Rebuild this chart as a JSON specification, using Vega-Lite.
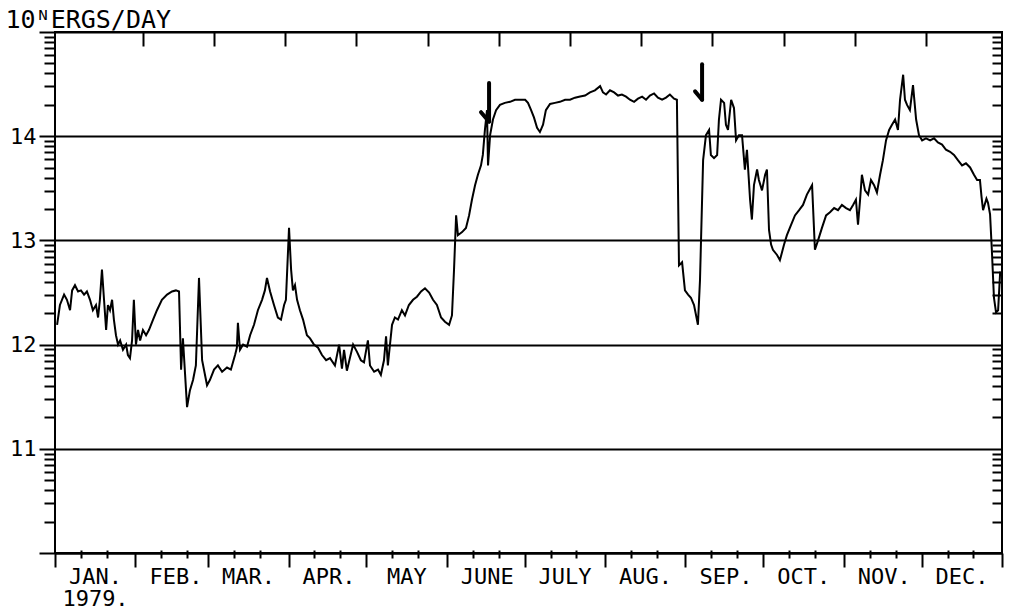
{
  "$schema": "https://vega.github.io/schema/vega-lite/v6.json",
  "width": 947,
  "height": 521,
  "autosize": {"type": "none"},
  "padding": {"left": 55, "top": 32, "right": 11, "bottom": 59},
  "background": "white",
  "config": {"view": {"stroke": "black", "strokeWidth": 2}},
  "datasets": {
    "series": [
      {"d": 0.8, "v": 12.19}, {"d": 1.9, "v": 12.38}, {"d": 3.5, "v": 12.48}, {"d": 4.6, "v": 12.43}, {"d": 5.8, "v": 12.33},
      {"d": 6.6, "v": 12.52}, {"d": 7.7, "v": 12.57}, {"d": 8.9, "v": 12.51}, {"d": 10.0, "v": 12.52}, {"d": 11.2, "v": 12.48},
      {"d": 12.3, "v": 12.51}, {"d": 13.5, "v": 12.43}, {"d": 14.6, "v": 12.33}, {"d": 15.8, "v": 12.38}, {"d": 16.6, "v": 12.26},
      {"d": 17.3, "v": 12.43}, {"d": 18.1, "v": 12.72}, {"d": 18.9, "v": 12.43}, {"d": 19.7, "v": 12.14}, {"d": 20.4, "v": 12.38},
      {"d": 21.2, "v": 12.33}, {"d": 22.0, "v": 12.43}, {"d": 22.7, "v": 12.24}, {"d": 23.5, "v": 12.09}, {"d": 24.3, "v": 12.0},
      {"d": 25.1, "v": 12.04}, {"d": 26.2, "v": 11.95}, {"d": 27.4, "v": 12.0}, {"d": 28.1, "v": 11.9}, {"d": 28.9, "v": 11.87},
      {"d": 29.7, "v": 12.04}, {"d": 30.4, "v": 12.43}, {"d": 31.2, "v": 12.0}, {"d": 32.0, "v": 12.14}, {"d": 32.8, "v": 12.04},
      {"d": 33.9, "v": 12.14}, {"d": 35.1, "v": 12.09}, {"d": 36.2, "v": 12.14}, {"d": 37.8, "v": 12.24}, {"d": 39.3, "v": 12.33},
      {"d": 41.2, "v": 12.43}, {"d": 43.2, "v": 12.48}, {"d": 45.1, "v": 12.51}, {"d": 46.6, "v": 12.52}, {"d": 47.8, "v": 12.51},
      {"d": 48.6, "v": 11.76}, {"d": 49.3, "v": 12.06}, {"d": 50.9, "v": 11.4}, {"d": 52.0, "v": 11.56}, {"d": 53.2, "v": 11.66},
      {"d": 54.3, "v": 11.8}, {"d": 55.5, "v": 12.64}, {"d": 56.7, "v": 11.85}, {"d": 58.6, "v": 11.61}, {"d": 59.7, "v": 11.66},
      {"d": 61.3, "v": 11.76}, {"d": 62.8, "v": 11.8}, {"d": 64.4, "v": 11.74}, {"d": 66.3, "v": 11.78}, {"d": 67.8, "v": 11.76},
      {"d": 69.4, "v": 11.9}, {"d": 70.1, "v": 11.97}, {"d": 70.5, "v": 12.21}, {"d": 71.3, "v": 11.95}, {"d": 72.5, "v": 12.0},
      {"d": 74.0, "v": 11.98}, {"d": 75.2, "v": 12.09}, {"d": 76.7, "v": 12.19}, {"d": 78.2, "v": 12.33}, {"d": 79.8, "v": 12.43},
      {"d": 80.9, "v": 12.52}, {"d": 81.7, "v": 12.64}, {"d": 82.9, "v": 12.51}, {"d": 84.4, "v": 12.38}, {"d": 85.9, "v": 12.26},
      {"d": 87.1, "v": 12.24}, {"d": 88.3, "v": 12.38}, {"d": 89.0, "v": 12.43}, {"d": 90.2, "v": 13.12}, {"d": 91.0, "v": 12.72},
      {"d": 91.7, "v": 12.52}, {"d": 92.5, "v": 12.57}, {"d": 93.3, "v": 12.43}, {"d": 94.4, "v": 12.33}, {"d": 95.6, "v": 12.24},
      {"d": 97.1, "v": 12.09}, {"d": 98.3, "v": 12.06}, {"d": 99.8, "v": 12.0}, {"d": 101.4, "v": 11.97}, {"d": 102.9, "v": 11.9},
      {"d": 104.5, "v": 11.85}, {"d": 106.0, "v": 11.87}, {"d": 107.9, "v": 11.8}, {"d": 109.5, "v": 12.0}, {"d": 110.6, "v": 11.77},
      {"d": 111.4, "v": 11.95}, {"d": 112.5, "v": 11.75}, {"d": 114.9, "v": 12.0}, {"d": 116.4, "v": 11.93}, {"d": 117.9, "v": 11.85},
      {"d": 119.1, "v": 11.83}, {"d": 120.6, "v": 12.04}, {"d": 121.4, "v": 11.8}, {"d": 123.0, "v": 11.74}, {"d": 124.5, "v": 11.76},
      {"d": 125.6, "v": 11.71}, {"d": 126.8, "v": 11.85}, {"d": 127.6, "v": 12.08}, {"d": 128.3, "v": 11.8}, {"d": 128.7, "v": 11.9},
      {"d": 129.9, "v": 12.19}, {"d": 131.0, "v": 12.26}, {"d": 132.2, "v": 12.24}, {"d": 133.7, "v": 12.33}, {"d": 134.9, "v": 12.28},
      {"d": 136.4, "v": 12.38}, {"d": 138.0, "v": 12.43}, {"d": 139.5, "v": 12.46}, {"d": 141.1, "v": 12.51}, {"d": 142.6, "v": 12.54},
      {"d": 144.2, "v": 12.5}, {"d": 145.7, "v": 12.43}, {"d": 147.2, "v": 12.38}, {"d": 148.8, "v": 12.26}, {"d": 150.3, "v": 12.22},
      {"d": 151.9, "v": 12.19}, {"d": 153.0, "v": 12.28}, {"d": 153.8, "v": 12.72}, {"d": 154.6, "v": 13.24}, {"d": 155.3, "v": 13.05},
      {"d": 156.9, "v": 13.08}, {"d": 158.4, "v": 13.12}, {"d": 159.6, "v": 13.24}, {"d": 160.7, "v": 13.39}, {"d": 161.9, "v": 13.53},
      {"d": 163.0, "v": 13.63}, {"d": 164.2, "v": 13.72}, {"d": 164.9, "v": 13.82}, {"d": 165.7, "v": 14.06}, {"d": 166.5, "v": 14.25},
      {"d": 166.9, "v": 13.72}, {"d": 167.7, "v": 14.01}, {"d": 168.8, "v": 14.16}, {"d": 170.0, "v": 14.25}, {"d": 171.5, "v": 14.3},
      {"d": 173.4, "v": 14.32}, {"d": 175.4, "v": 14.33}, {"d": 177.3, "v": 14.35}, {"d": 179.2, "v": 14.35}, {"d": 181.2, "v": 14.35},
      {"d": 182.3, "v": 14.32}, {"d": 183.5, "v": 14.25}, {"d": 184.6, "v": 14.18}, {"d": 185.8, "v": 14.08}, {"d": 186.9, "v": 14.04},
      {"d": 188.1, "v": 14.11}, {"d": 189.2, "v": 14.25}, {"d": 190.8, "v": 14.31}, {"d": 192.7, "v": 14.32}, {"d": 194.6, "v": 14.33},
      {"d": 196.6, "v": 14.35}, {"d": 198.5, "v": 14.35}, {"d": 200.4, "v": 14.37}, {"d": 202.4, "v": 14.38}, {"d": 204.3, "v": 14.39},
      {"d": 206.2, "v": 14.42}, {"d": 208.1, "v": 14.44}, {"d": 210.1, "v": 14.48}, {"d": 211.2, "v": 14.42}, {"d": 212.4, "v": 14.4},
      {"d": 213.9, "v": 14.44}, {"d": 215.5, "v": 14.42}, {"d": 217.0, "v": 14.39}, {"d": 218.5, "v": 14.4}, {"d": 220.1, "v": 14.38},
      {"d": 221.6, "v": 14.35}, {"d": 223.2, "v": 14.33}, {"d": 224.7, "v": 14.36}, {"d": 226.3, "v": 14.38}, {"d": 227.8, "v": 14.35},
      {"d": 229.3, "v": 14.39}, {"d": 230.9, "v": 14.41}, {"d": 232.4, "v": 14.37}, {"d": 234.0, "v": 14.35}, {"d": 235.5, "v": 14.37},
      {"d": 237.0, "v": 14.4}, {"d": 238.6, "v": 14.36}, {"d": 239.7, "v": 14.35}, {"d": 240.5, "v": 12.76}, {"d": 241.7, "v": 12.79},
      {"d": 242.8, "v": 12.52}, {"d": 244.0, "v": 12.48}, {"d": 245.1, "v": 12.45}, {"d": 246.3, "v": 12.38}, {"d": 247.8, "v": 12.19},
      {"d": 248.6, "v": 12.62}, {"d": 249.8, "v": 13.77}, {"d": 250.9, "v": 14.01}, {"d": 252.1, "v": 14.06}, {"d": 252.8, "v": 13.82},
      {"d": 254.0, "v": 13.79}, {"d": 255.2, "v": 13.82}, {"d": 255.9, "v": 14.16}, {"d": 256.7, "v": 14.35}, {"d": 257.9, "v": 14.32},
      {"d": 258.6, "v": 14.11}, {"d": 259.4, "v": 14.06}, {"d": 260.6, "v": 14.35}, {"d": 261.7, "v": 14.27}, {"d": 262.5, "v": 13.96},
      {"d": 263.6, "v": 14.01}, {"d": 264.8, "v": 14.01}, {"d": 265.9, "v": 13.68}, {"d": 266.7, "v": 13.87}, {"d": 267.9, "v": 13.39},
      {"d": 268.6, "v": 13.2}, {"d": 269.4, "v": 13.53}, {"d": 270.6, "v": 13.68}, {"d": 271.3, "v": 13.58}, {"d": 272.5, "v": 13.48},
      {"d": 273.7, "v": 13.63}, {"d": 274.4, "v": 13.68}, {"d": 275.2, "v": 13.1}, {"d": 276.0, "v": 12.96}, {"d": 276.7, "v": 12.91},
      {"d": 278.3, "v": 12.86}, {"d": 279.4, "v": 12.81}, {"d": 281.0, "v": 12.96}, {"d": 282.1, "v": 13.05}, {"d": 283.7, "v": 13.15},
      {"d": 285.2, "v": 13.24}, {"d": 286.8, "v": 13.29}, {"d": 288.3, "v": 13.34}, {"d": 289.8, "v": 13.44}, {"d": 291.8, "v": 13.53},
      {"d": 292.9, "v": 12.91}, {"d": 294.1, "v": 13.0}, {"d": 295.6, "v": 13.12}, {"d": 297.2, "v": 13.24}, {"d": 298.7, "v": 13.27},
      {"d": 300.3, "v": 13.31}, {"d": 301.8, "v": 13.29}, {"d": 303.3, "v": 13.34}, {"d": 304.9, "v": 13.31}, {"d": 306.4, "v": 13.29},
      {"d": 307.6, "v": 13.34}, {"d": 308.7, "v": 13.39}, {"d": 309.5, "v": 13.15}, {"d": 310.3, "v": 13.39}, {"d": 311.0, "v": 13.63},
      {"d": 312.2, "v": 13.48}, {"d": 313.4, "v": 13.44}, {"d": 314.5, "v": 13.58}, {"d": 315.7, "v": 13.53}, {"d": 316.8, "v": 13.46},
      {"d": 318.0, "v": 13.63}, {"d": 319.1, "v": 13.77}, {"d": 320.3, "v": 13.96}, {"d": 321.5, "v": 14.06}, {"d": 322.6, "v": 14.11},
      {"d": 323.8, "v": 14.16}, {"d": 324.9, "v": 14.06}, {"d": 325.7, "v": 14.35}, {"d": 326.9, "v": 14.59}, {"d": 327.6, "v": 14.35},
      {"d": 328.4, "v": 14.3}, {"d": 329.5, "v": 14.25}, {"d": 330.7, "v": 14.49}, {"d": 331.9, "v": 14.16}, {"d": 333.0, "v": 14.01},
      {"d": 334.2, "v": 13.96}, {"d": 335.7, "v": 13.98}, {"d": 337.3, "v": 13.96}, {"d": 338.8, "v": 13.98}, {"d": 340.3, "v": 13.94},
      {"d": 341.9, "v": 13.92}, {"d": 343.4, "v": 13.87}, {"d": 345.0, "v": 13.85}, {"d": 346.5, "v": 13.82}, {"d": 348.0, "v": 13.77},
      {"d": 349.6, "v": 13.72}, {"d": 351.1, "v": 13.74}, {"d": 352.7, "v": 13.7}, {"d": 354.2, "v": 13.63}, {"d": 355.4, "v": 13.58},
      {"d": 356.5, "v": 13.58}, {"d": 357.1, "v": 13.42}, {"d": 357.7, "v": 13.29}, {"d": 359.0, "v": 13.4}, {"d": 359.6, "v": 13.36},
      {"d": 360.4, "v": 13.25}, {"d": 361.1, "v": 12.9}, {"d": 361.9, "v": 12.45}, {"d": 362.7, "v": 12.31}, {"d": 363.5, "v": 12.33},
      {"d": 364.3, "v": 12.7}
    ],
    "shafts": [
      {"d": 167.3, "d2": 167.3, "v": 14.51, "v2": 14.14},
      {"d": 249.4, "d2": 249.4, "v": 14.69, "v2": 14.35}
    ],
    "barbs": [
      {"d": 164.2, "d2": 167.3, "v": 14.23, "v2": 14.14},
      {"d": 246.7, "d2": 249.4, "v": 14.43, "v2": 14.35}
    ]
  },
  "resolve": {"axis": {"x": "independent", "y": "independent"}},
  "layer": [
    {
      "data": {"name": "series"},
      "mark": {"type": "line", "color": "black", "strokeWidth": 2, "clip": true},
      "encoding": {
        "x": {
          "field": "d", "type": "quantitative",
          "scale": {"domain": [0, 365], "nice": false, "zero": false},
          "axis": {
            "orient": "bottom", "title": null, "grid": false,
            "values": [0, 31, 59, 90, 120, 151, 181, 212, 243, 273, 304, 334, 365],
            "domain": true, "domainColor": "black", "domainWidth": 2,
            "ticks": true, "tickSize": 14, "tickColor": "black", "tickWidth": 2,
            "labelExpr": "[['JAN.','1979.'],'FEB.','MAR.','APR.','MAY','JUNE','JULY','AUG.','SEP.','OCT.','NOV.','DEC.',''][indexof([0,31,59,90,120,151,181,212,243,273,304,334,365], datum.value)]",
            "labelOffset": 40, "labelPadding": -1, "labelFlush": false, "labelOverlap": false, "labelBound": false,
            "labelFont": "DejaVu Sans Mono", "labelFontSize": 22, "labelColor": "black", "labelLineHeight": 22,
            "labelAlign": "center", "labelBaseline": "top"
          }
        },
        "y": {
          "field": "v", "type": "quantitative",
          "scale": {"domain": [10, 15], "nice": false, "zero": false},
          "axis": {
            "orient": "left",
            "title": "10ᴺERGS/DAY", "titleAngle": 0, "titleX": -50, "titleY": -5,
            "titleAlign": "left", "titleBaseline": "alphabetic",
            "titleFont": "DejaVu Sans Mono", "titleFontSize": 25, "titleFontWeight": "normal", "titleColor": "black",
            "values": [10, 11, 12, 13, 14, 15],
            "domain": false,
            "grid": true, "gridColor": "black", "gridWidth": 2, "gridOpacity": 1,
            "ticks": true, "tickSize": 16, "tickColor": "black", "tickWidth": 2,
            "labelExpr": "(datum.value >= 11 && datum.value <= 14) ? datum.label : ''",
            "labelPadding": 3, "labelOverlap": false, "labelBound": false, "labelFlush": false,
            "labelFont": "DejaVu Sans Mono", "labelFontSize": 22, "labelColor": "black", "labelBaseline": "middle"
          }
        }
      }
    },
    {
      "data": {"name": "shafts"},
      "mark": {"type": "rule", "color": "black", "strokeWidth": 4, "strokeCap": "round"},
      "encoding": {
        "x": {
          "field": "d", "type": "quantitative",
          "scale": {"domain": [0, 365], "nice": false, "zero": false},
          "axis": {
            "orient": "bottom", "title": null, "grid": false, "domain": false, "labels": false,
            "values": [10, 20, 41, 51, 69, 79, 100, 110, 130, 140, 161, 171, 191, 201, 222, 232, 253, 263, 283, 293, 314, 324, 344, 354],
            "offset": -3, "tickSize": 8, "tickColor": "black", "tickWidth": 2
          }
        },
        "x2": {"field": "d2"},
        "y": {
          "field": "v", "type": "quantitative",
          "scale": {"domain": [10, 15], "nice": false, "zero": false},
          "axis": {
            "orient": "left", "title": null, "grid": false, "domain": false, "labels": false,
            "values": [10.301, 10.477, 10.602, 10.699, 10.778, 10.845, 10.903, 10.954,
                       11.301, 11.477, 11.602, 11.699, 11.778, 11.845, 11.903, 11.954,
                       12.301, 12.477, 12.602, 12.699, 12.778, 12.845, 12.903, 12.954,
                       13.301, 13.477, 13.602, 13.699, 13.778, 13.845, 13.903, 13.954,
                       14.301, 14.477, 14.602, 14.699, 14.778, 14.845, 14.903, 14.954],
            "tickSize": 11, "tickColor": "black", "tickWidth": 2
          }
        },
        "y2": {"field": "v2"}
      }
    },
    {
      "data": {"name": "barbs"},
      "mark": {"type": "rule", "color": "black", "strokeWidth": 4, "strokeCap": "round"},
      "encoding": {
        "x": {
          "field": "d", "type": "quantitative",
          "scale": {"domain": [0, 365], "nice": false, "zero": false},
          "axis": {
            "orient": "top", "title": null, "grid": false, "domain": false, "labels": false,
            "values": [33.9, 61.3, 88.8, 116.2, 143.7, 171.1, 198.5, 226.0, 253.4, 280.8, 308.3, 335.7],
            "offset": -14, "tickSize": 14, "tickColor": "black", "tickWidth": 2
          }
        },
        "x2": {"field": "d2"},
        "y": {
          "field": "v", "type": "quantitative",
          "scale": {"domain": [10, 15], "nice": false, "zero": false},
          "axis": {
            "orient": "right", "title": null, "grid": false, "domain": false, "labels": false,
            "values": [10.301, 10.477, 10.602, 10.699, 10.778, 10.845, 10.903, 10.954,
                       11.301, 11.477, 11.602, 11.699, 11.778, 11.845, 11.903, 11.954,
                       12.301, 12.477, 12.602, 12.699, 12.778, 12.845, 12.903, 12.954,
                       13.301, 13.477, 13.602, 13.699, 13.778, 13.845, 13.903, 13.954,
                       14.301, 14.477, 14.602, 14.699, 14.778, 14.845, 14.903, 14.954],
            "offset": -10, "tickSize": 10, "tickColor": "black", "tickWidth": 2
          }
        },
        "y2": {"field": "v2"}
      }
    }
  ]
}
